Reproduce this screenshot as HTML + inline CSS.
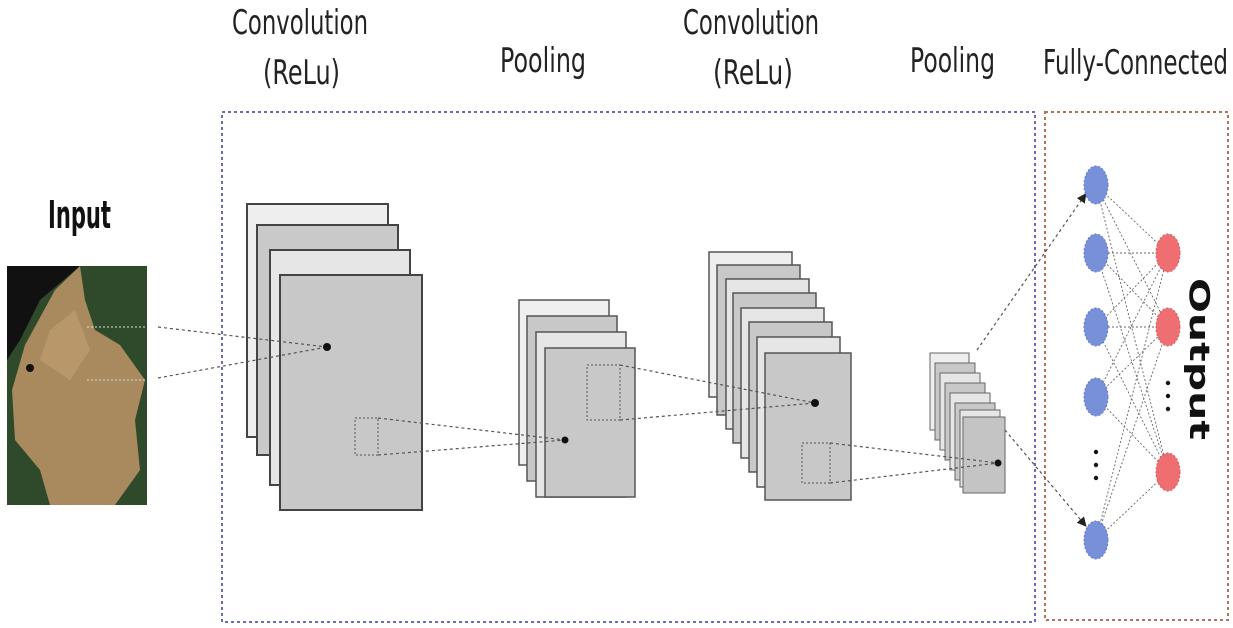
<!DOCTYPE html>
<html><head><meta charset="utf-8"><style>html,body{margin:0;padding:0;background:#fff;}svg{display:block}</style></head>
<body>
<svg width="1233" height="628" viewBox="0 0 1233 628" xmlns="http://www.w3.org/2000/svg" font-family="'DejaVu Sans', 'Liberation Sans', sans-serif">
<defs>
<marker id="ar" markerWidth="8" markerHeight="8" refX="6" refY="4" orient="auto"><path d="M0,0 L8,4 L0,8z" fill="#222"/></marker>
</defs>
<g font-size="34" fill="#222">
<text x="232" y="34" textLength="136" lengthAdjust="spacingAndGlyphs">Convolution</text>
<text x="263" y="84" textLength="77" lengthAdjust="spacingAndGlyphs">(ReLu)</text>
<text x="500" y="72" textLength="86" lengthAdjust="spacingAndGlyphs">Pooling</text>
<text x="683" y="34" textLength="136" lengthAdjust="spacingAndGlyphs">Convolution</text>
<text x="713" y="84" textLength="80" lengthAdjust="spacingAndGlyphs">(ReLu)</text>
<text x="910" y="72" textLength="85" lengthAdjust="spacingAndGlyphs">Pooling</text>
<text x="1043" y="74" textLength="185" lengthAdjust="spacingAndGlyphs">Fully-Connected</text>
</g>
<text x="48" y="228" font-size="38" font-weight="bold" fill="#111" textLength="63" lengthAdjust="spacingAndGlyphs">Input</text>
<rect x="222" y="112" width="813" height="510" fill="none" stroke="#6a6abf" stroke-width="2" stroke-dasharray="3,3"/>
<rect x="1045" y="112" width="183" height="508" fill="none" stroke="#b5705a" stroke-width="2" stroke-dasharray="3,3"/>
<rect x="7" y="266" width="140" height="239" fill="#2e4a2a"/>
<path d="M7,266 L80,266 L40,300 L20,340 L7,360Z" fill="#111"/>
<path d="M80,266 L55,290 L25,345 L12,390 L15,440 L40,470 L50,505 L115,505 L140,470 L135,420 L145,380 L120,345 L95,330 L85,300 Z" fill="#a88a5e"/>
<path d="M50,330 L75,310 L90,350 L70,380 L40,360Z" fill="#b8986a"/>
<circle cx="30" cy="368" r="4" fill="#111"/>
<line x1="87" y1="327" x2="147" y2="327" stroke="#ddd" stroke-dasharray="2,2"/>
<line x1="87" y1="380" x2="147" y2="380" stroke="#ddd" stroke-dasharray="2,2"/>
<g stroke="#444" stroke-width="2">
<rect x="247" y="204" width="141" height="233" fill="#eeeeee"/>
<rect x="257" y="225" width="141" height="230" fill="#c9c9c9"/>
<rect x="270" y="250" width="140" height="235" fill="#e6e6e6"/>
<rect x="280" y="275" width="142" height="235" fill="#c8c8c8"/>
</g>
<rect x="355" y="418" width="23" height="37" fill="none" stroke="#555" stroke-dasharray="2,2"/>
<g stroke="#555" stroke-width="1.5">
<rect x="519" y="300" width="90" height="165" fill="#efefef"/>
<rect x="527" y="316" width="90" height="165" fill="#c8c8c8"/>
<rect x="536" y="332" width="90" height="165" fill="#e6e6e6"/>
<rect x="545" y="348" width="90" height="149" fill="#c8c8c8"/>
</g>
<rect x="587" y="365" width="33" height="55" fill="none" stroke="#555" stroke-dasharray="2,2"/>
<g stroke="#555" stroke-width="1.5">
<rect x="709" y="252" width="83" height="145" fill="#eeeeee"/>
<rect x="717" y="265" width="83" height="150" fill="#c8c8c8"/>
<rect x="726" y="279" width="83" height="150" fill="#e6e6e6"/>
<rect x="733" y="293" width="83" height="150" fill="#c8c8c8"/>
<rect x="741" y="308" width="83" height="150" fill="#e6e6e6"/>
<rect x="749" y="322" width="83" height="150" fill="#c8c8c8"/>
<rect x="757" y="337" width="83" height="150" fill="#e6e6e6"/>
<rect x="765" y="353" width="86" height="147" fill="#c8c8c8"/>
</g>
<rect x="802" y="443" width="28" height="40" fill="none" stroke="#555" stroke-dasharray="2,2"/>
<g stroke="#666" stroke-width="1">
<rect x="930" y="353" width="39" height="77" fill="#eeeeee"/>
<rect x="935" y="363" width="40" height="77" fill="#c8c8c8"/>
<rect x="940" y="373" width="40" height="77" fill="#e6e6e6"/>
<rect x="945" y="383" width="40" height="77" fill="#c8c8c8"/>
<rect x="950" y="393" width="40" height="77" fill="#e6e6e6"/>
<rect x="955" y="403" width="40" height="77" fill="#c8c8c8"/>
<rect x="960" y="410" width="40" height="77" fill="#e6e6e6"/>
<rect x="963" y="417" width="42" height="76" fill="#c4c4c4"/>
</g>
<g stroke="#555" stroke-width="1.2" stroke-dasharray="3,3" fill="none">
<line x1="158" y1="327" x2="327" y2="347"/>
<line x1="158" y1="378" x2="327" y2="347"/>
<line x1="378" y1="418" x2="565" y2="440"/>
<line x1="378" y1="455" x2="565" y2="440"/>
<line x1="620" y1="365" x2="815" y2="403"/>
<line x1="620" y1="420" x2="815" y2="403"/>
<line x1="830" y1="443" x2="998" y2="463"/>
<line x1="830" y1="483" x2="998" y2="463"/>
<line x1="977" y1="350" x2="1085" y2="195" marker-end="url(#ar)"/>
<line x1="1005" y1="430" x2="1085" y2="525" marker-end="url(#ar)"/>
</g>
<circle cx="327" cy="347" r="4" fill="#111"/>
<circle cx="565" cy="440" r="3.5" fill="#111"/>
<circle cx="815" cy="403" r="4" fill="#111"/>
<circle cx="998" cy="463" r="3.5" fill="#111"/>
<g stroke="#666" stroke-width="0.9" stroke-dasharray="2,2">
<line x1="1096" y1="185" x2="1168" y2="253"/><line x1="1096" y1="185" x2="1168" y2="327"/><line x1="1096" y1="185" x2="1168" y2="472"/>
<line x1="1096" y1="253" x2="1168" y2="253"/><line x1="1096" y1="253" x2="1168" y2="327"/><line x1="1096" y1="253" x2="1168" y2="472"/>
<line x1="1096" y1="327" x2="1168" y2="253"/><line x1="1096" y1="327" x2="1168" y2="327"/><line x1="1096" y1="327" x2="1168" y2="472"/>
<line x1="1096" y1="397" x2="1168" y2="253"/><line x1="1096" y1="397" x2="1168" y2="327"/><line x1="1096" y1="397" x2="1168" y2="472"/>
<line x1="1096" y1="540" x2="1168" y2="253"/><line x1="1096" y1="540" x2="1168" y2="327"/><line x1="1096" y1="540" x2="1168" y2="472"/>
</g>
<g fill="#7890d8" stroke="#6478c8" stroke-dasharray="2,2">
<ellipse cx="1096" cy="185" rx="12" ry="19"/>
<ellipse cx="1096" cy="253" rx="12" ry="19"/>
<ellipse cx="1096" cy="327" rx="12" ry="19"/>
<ellipse cx="1096" cy="397" rx="12" ry="19"/>
<ellipse cx="1096" cy="540" rx="12" ry="19"/>
</g>
<g fill="#ee6e72" stroke="#d85a5e" stroke-dasharray="2,2">
<ellipse cx="1168" cy="253" rx="12" ry="19"/>
<ellipse cx="1168" cy="327" rx="12" ry="19"/>
<ellipse cx="1168" cy="472" rx="12" ry="19"/>
</g>
<g fill="#111">
<circle cx="1096" cy="452" r="2.2"/><circle cx="1096" cy="465" r="2.2"/><circle cx="1096" cy="478" r="2.2"/>
<circle cx="1168" cy="383" r="2.2"/><circle cx="1168" cy="396" r="2.2"/><circle cx="1168" cy="409" r="2.2"/>
</g>
<text x="0" y="0" transform="translate(1190,278) rotate(90)" font-size="28" font-weight="bold" fill="#111" textLength="162" lengthAdjust="spacingAndGlyphs">Output</text>
</svg>
</body></html>
